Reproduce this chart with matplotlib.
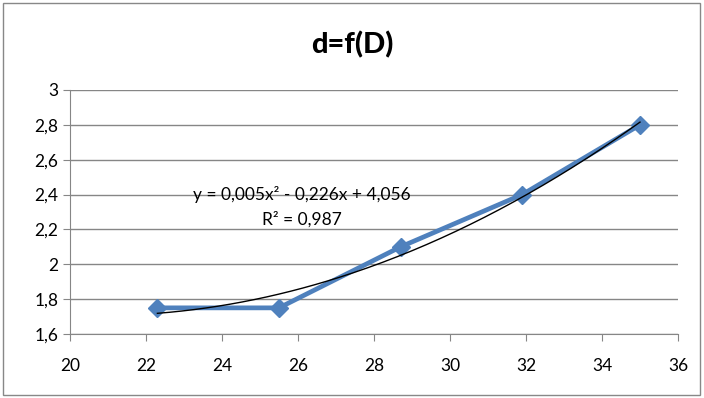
import matplotlib
matplotlib.use("Agg")
import matplotlib.pyplot as plt
import numpy as np
from matplotlib.ticker import FuncFormatter
from matplotlib.patches import Rectangle

D = [22.3, 25.5, 28.7, 31.9, 35.0]
d = [1.75, 1.75, 2.1, 2.4, 2.8]
trendText = "y = 0,005x² - 0,226x + 4,056"
r2Text = "R² = 0,987"

plt.rcParams["font.family"] = ["Lato", "DejaVu Sans"]

fig = plt.figure(figsize=(7.04, 3.98), dpi=100)
ax = fig.add_axes([70 / 704, 1 - 334 / 398, 608 / 704, 244 / 398])

# chart frame
fig.patches.append(Rectangle((3 / 704, 3 / 398), 697 / 704, 392 / 398, transform=fig.transFigure,
                             fill=False, edgecolor="#888888", linewidth=1.0))

ax.plot(D, d, color="#4F81BD", linewidth=3.4, marker="D", markersize=9, zorder=3)

# second order trendline
coef = np.polyfit(D, d, 2)
xs = np.linspace(min(D), max(D), 200)
ax.plot(xs, np.polyval(coef, xs), color="black", linewidth=1.0, zorder=4)

ax.text(26.1, 2.4, trendText, ha="center", va="center", fontsize=12.5, zorder=5)
ax.text(26.1, 2.255, r2Text, ha="center", va="center", fontsize=12.5, zorder=5)

ax.set_xlim(20, 36)
ax.set_ylim(1.6, 3.0)
ax.set_xticks(np.arange(20, 37, 2))
ax.set_yticks(np.arange(1.6, 3.01, 0.2))
comma = FuncFormatter(lambda v, p: ("%g" % round(v, 1)).replace(".", ","))
ax.xaxis.set_major_formatter(comma)
ax.yaxis.set_major_formatter(comma)
ax.grid(axis="y", color="#868686", linewidth=1.0)
ax.set_axisbelow(True)
for s in ["top", "right"]:
    ax.spines[s].set_visible(False)
for s in ["left", "bottom"]:
    ax.spines[s].set_color("#868686")
ax.tick_params(axis="both", colors="#868686", labelcolor="black", labelsize=12.5, length=5, direction="out")
ax.tick_params(axis="x", pad=12)

fig.text(0.5, 1 - 45 / 398, "d=f(D)", ha="center", va="center", fontsize=21, fontweight="black")

fig.savefig("out.png", dpi=100)
